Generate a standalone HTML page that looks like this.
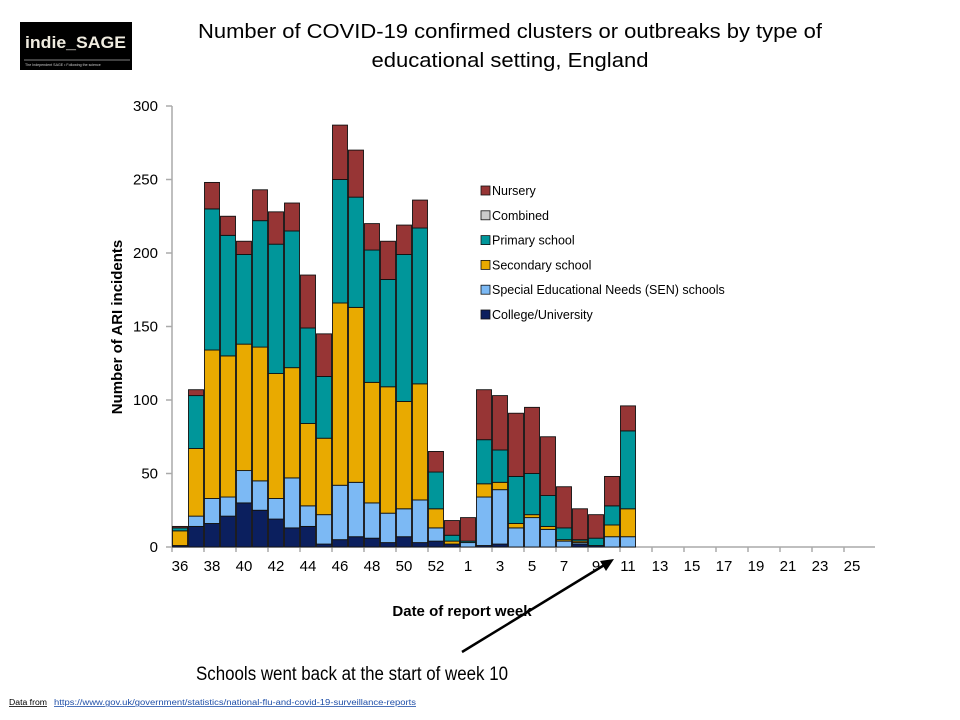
<!DOCTYPE html>
<html><head><meta charset="utf-8"><style>
body{margin:0;background:#fff}
svg{display:block;font-family:"Liberation Sans",Arial,sans-serif}
</style></head><body>
<svg id="chart" width="960" height="720" viewBox="0 0 960 720" xmlns="http://www.w3.org/2000/svg">
<g>
<rect x="20" y="22" width="112" height="48" fill="#000"/>
<text x="25" y="48" font-size="17" fill="#f0ece0" font-weight="bold" textLength="101" lengthAdjust="spacingAndGlyphs">indie_SAGE</text>
<line x1="24" y1="60" x2="130" y2="60" stroke="#aaa" stroke-width="0.7"/>
<text x="25" y="66" font-size="3.6" fill="#ccc">The Independent SAGE • Following the science</text>
</g>
<text x="510" y="38" font-size="20" text-anchor="middle" textLength="624" lengthAdjust="spacingAndGlyphs">Number of COVID-19 confirmed clusters or outbreaks by type of</text>
<text x="510" y="67" font-size="20" text-anchor="middle" textLength="277" lengthAdjust="spacingAndGlyphs">educational setting, England</text>
<g id="plot"></g>
<text transform="translate(122,327) rotate(-90)" font-size="15" font-weight="bold" text-anchor="middle">Number of ARI incidents</text>
<text x="462" y="616" font-size="15" font-weight="bold" text-anchor="middle">Date of report week</text>
<g id="legend"></g>
<g>
<line x1="462" y1="652" x2="606" y2="564" stroke="#000" stroke-width="2.5"/>
<polygon points="614,559 600,561 606,571" fill="#000"/>
</g>
<text x="196" y="680" font-size="19" textLength="312" lengthAdjust="spacingAndGlyphs">Schools went back at the start of week 10</text>
<text x="9" y="705" font-size="8" text-decoration="underline" textLength="38" lengthAdjust="spacingAndGlyphs">Data from</text>
<text x="54" y="705" font-size="8" fill="#1f4fa8" text-decoration="underline" textLength="362" lengthAdjust="spacingAndGlyphs">https://www.gov.uk/government/statistics/national-flu-and-covid-19-surveillance-reports</text>
</svg>
<script>
const weeks = ["36","37","38","39","40","41","42","43","44","45","46","47","48","49","50","51","52","53","1","2","3","4","5","6","7","8","9","10","11","12","13","14","15","16","17","18","19","20","21","22","23","24","25"];
const college = [1,14,16,21,30,25,19,13,14,2,5,7,6,3,7,3,4,2,0,1,2,0,0,0,0,2,1,0,0];
const sen = [0,7,17,13,22,20,14,34,14,20,37,37,24,20,19,29,9,0,3,33,37,13,20,12,4,1,0,7,7];
const secondary = [10,46,101,96,86,91,85,75,56,52,124,119,82,86,73,79,13,2,0,9,5,3,2,2,1,1,0,8,19];
const primary = [2,36,96,82,61,86,88,93,65,42,84,75,90,73,100,106,25,4,1,30,22,32,28,21,8,1,5,13,53];
const combined = [0,0,0,0,0,0,0,0,0,0,0,0,0,0,0,0,0,0,0,0,0,0,0,0,0,0,0,0,0];
const nursery = [1,4,18,13,9,21,22,19,36,29,37,32,18,26,20,19,14,10,16,34,37,43,45,40,28,21,16,20,17];
const yTicks = [0,50,100,150,200,250,300];
const seriesNames = ["Nursery","Combined","Primary school","Secondary school","Special Educational Needs (SEN) schools","College/University"];

const NS="http://www.w3.org/2000/svg";
const X0=172, SLOT=16, Y0=547, YMAX=300, PH=441;
const yScale=v=>Y0-v/YMAX*PH;
const xScale=i=>X0+i*SLOT;
function mk(tag,attrs,parent){const e=document.createElementNS(NS,tag);for(const k in attrs)e.setAttribute(k,attrs[k]);parent.appendChild(e);return e;}
const plot=document.getElementById('plot');
const stack=[["college",college,"#0b1f5e"],["sen",sen,"#7cb9f4"],["secondary",secondary,"#e9aa00"],["primary",primary,"#00969a"],["combined",combined,"#cccccc"],["nursery",nursery,"#973535"]];
const ya=mk('line',{x1:X0,y1:yScale(300),x2:X0,y2:Y0,stroke:'#aaa','stroke-width':1.5},plot);


yTicks.forEach(t=>{
 const tk=mk('line',{x1:X0-6,y1:yScale(t),x2:X0,y2:yScale(t),stroke:'#aaa','stroke-width':1.5},plot);
 
 
 const tl=mk('text',{x:158,y:yScale(t)+5,'font-size':15,'text-anchor':'end'},plot);
 
 
 tl.textContent=t;
});
const xa=mk('line',{x1:X0,y1:Y0,x2:875,y2:Y0,stroke:'#aaa','stroke-width':1.5},plot);


weeks.forEach((w,i)=>{
 if(i%2===0){
  const tk=mk('line',{x1:xScale(i),y1:Y0,x2:xScale(i),y2:Y0+5,stroke:'#aaa','stroke-width':1.5},plot);
  
  
  const tl=mk('text',{x:xScale(i)+SLOT/2,y:Y0+24,'font-size':15,'text-anchor':'middle'},plot);
  
  
  tl.textContent=w;
 }
});
for(let i=0;i<college.length;i++){
 let base=0;
 stack.forEach(([nm,arr,col])=>{
  const v=arr[i]||0; if(v<=0)return;
  const r=mk('rect',{x:xScale(i)+0.5,y:yScale(base+v),width:SLOT-1,height:yScale(base)-yScale(base+v),fill:col,stroke:'#111','stroke-width':0.9},plot);
  
  
  base+=v;
 });
}
const lg=document.getElementById('legend');
const lcols=["#973535","#cccccc","#00969a","#e9aa00","#7cb9f4","#0b1f5e"];
seriesNames.forEach((n,k)=>{
 const y=191+k*24.8;
 const g=mk('g',{},lg);
 
 
 mk('rect',{x:481,y:y-5,width:9,height:9,fill:lcols[k],stroke:'#111','stroke-width':0.8},g);
 const t=mk('text',{x:492,y:y+4,'font-size':12.5},g);
 t.textContent=n;
});
</script>
</body></html>
